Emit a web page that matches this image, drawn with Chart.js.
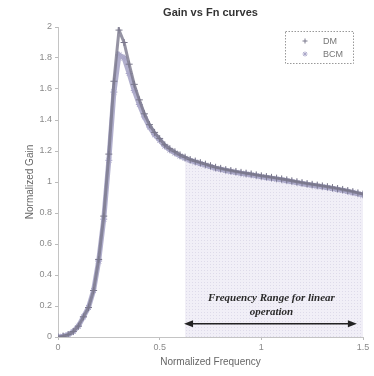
<!DOCTYPE html>
<html><head><meta charset="utf-8">
<script src="https://cdn.jsdelivr.net/npm/chart.js@4/dist/chart.umd.min.js"></script>
<style>html,body{margin:0;padding:0;background:#fff}#wrap{width:374px;height:376px}</style>
</head><body><div id="wrap"><canvas id="c"></canvas></div>
<script>
// Normalized frequency (x) samples
const freq = [0,0.025,0.05,0.075,0.1,0.125,0.15,0.175,0.2,0.225,0.25,0.275,0.3,0.325,0.35,0.375,0.4,0.425,0.45,0.475,0.5,0.525,0.55,0.575,0.6,0.625,0.65,0.675,0.7,0.725,0.75,0.775,0.8,0.825,0.85,0.875,0.9,0.925,0.95,0.975,1.0,1.025,1.05,1.075,1.1,1.125,1.15,1.175,1.2,1.225,1.25,1.275,1.3,1.325,1.35,1.375,1.4,1.425,1.45,1.475,1.5];
// DM normalized gain
const gainDM = [0,0.005,0.015,0.035,0.07,0.13,0.19,0.3,0.5,0.78,1.18,1.65,1.98,1.9,1.76,1.63,1.53,1.44,1.37,1.32,1.28,1.24,1.215,1.195,1.175,1.16,1.145,1.135,1.125,1.115,1.105,1.095,1.088,1.08,1.074,1.068,1.062,1.057,1.052,1.046,1.04,1.035,1.03,1.025,1.02,1.014,1.008,1.002,0.996,0.99,0.985,0.98,0.975,0.97,0.964,0.958,0.952,0.945,0.938,0.93,0.922];
// BCM normalized gain
const gainBCM = [0,0.005,0.015,0.035,0.07,0.13,0.19,0.3,0.49,0.76,1.14,1.58,1.82,1.8,1.7,1.59,1.5,1.42,1.355,1.305,1.27,1.232,1.207,1.187,1.168,1.153,1.139,1.129,1.119,1.109,1.099,1.089,1.082,1.074,1.068,1.062,1.056,1.051,1.046,1.04,1.034,1.029,1.024,1.019,1.014,1.008,1.002,0.996,0.99,0.984,0.979,0.974,0.969,0.964,0.958,0.952,0.946,0.939,0.932,0.924,0.916];
const xTicks = [0, 0.5, 1, 1.5];
const yTicks = [0,0.2,0.4,0.6,0.8,1,1.2,1.4,1.6,1.8,2];
const seriesNames = ['DM', 'BCM'];
const chartTitle = 'Gain vs Fn curves';
const shadeStart = 0.625;   // start of linear operation range
const arrowRange = [0.62, 1.47];
const arrowLevel = 0.085;
const rangeLabel = ['Frequency Range for linear', 'operation'];

const toXY = (ys) => freq.map((x, i) => ({x, y: ys[i]}));
const shadeData = freq.map((x, i) => ({x, y: gainDM[i]})).filter(p => p.x >= shadeStart);

// dotted texture for the shaded region
const pc = document.createElement('canvas'); pc.width = 3; pc.height = 3;
const pcx = pc.getContext('2d');
pcx.fillStyle = '#f1eff7'; pcx.fillRect(0,0,3,3);
pcx.fillStyle = '#dedbea'; pcx.fillRect(0,0,1,1);
const shadePattern = document.createElement('canvas').getContext('2d').createPattern(pc, 'repeat');

const colDM = '#7a788c', colBCM = '#a9a6c8';
const sans = '"Liberation Sans", Arial, sans-serif';

const overlay = {
  id: 'overlay',
  afterDatasetsDraw(chart) {
    const {ctx, chartArea, scales: {x, y}} = chart;
    ctx.save();
    // title
    ctx.font = 'bold 11px ' + sans; ctx.fillStyle = '#333'; ctx.textAlign = 'center'; ctx.textBaseline = 'middle';
    ctx.fillText(chartTitle, (chartArea.left + chartArea.right) / 2, 13);
    // arrow
    const x1 = x.getPixelForValue(arrowRange[0]), x2 = x.getPixelForValue(arrowRange[1]);
    const ya = y.getPixelForValue(arrowLevel);
    ctx.strokeStyle = '#222'; ctx.fillStyle = '#222'; ctx.lineWidth = 1.5;
    ctx.beginPath(); ctx.moveTo(x1 + 4, ya); ctx.lineTo(x2 - 4, ya); ctx.stroke();
    ctx.beginPath(); ctx.moveTo(x1, ya); ctx.lineTo(x1 + 9, ya - 3.5); ctx.lineTo(x1 + 9, ya + 3.5); ctx.closePath(); ctx.fill();
    ctx.beginPath(); ctx.moveTo(x2, ya); ctx.lineTo(x2 - 9, ya - 3.5); ctx.lineTo(x2 - 9, ya + 3.5); ctx.closePath(); ctx.fill();
    // label
    const cx = (x1 + x2) / 2 + 1;
    ctx.font = 'italic bold 11px "Liberation Serif", serif';
    ctx.fillStyle = '#2a2a2a';
    ctx.fillText(rangeLabel[0], cx, ya - 26);
    ctx.fillText(rangeLabel[1], cx, ya - 12);
    // legend box
    const lx = 285, ly = 31, lw = 68, lh = 32;
    ctx.setLineDash([1.5, 1.5]); ctx.strokeStyle = '#999'; ctx.lineWidth = 1;
    ctx.strokeRect(lx + 0.5, ly + 0.5, lw, lh);
    ctx.setLineDash([]);
    ctx.font = '9px ' + sans; ctx.textAlign = 'left';
    const rows = [{name: seriesNames[0], col: colDM, style: 'cross'}, {name: seriesNames[1], col: colBCM, style: 'star'}];
    rows.forEach((r, i) => {
      const ry = ly + 10 + i * 13;
      ctx.strokeStyle = r.col; ctx.lineWidth = 1;
      ctx.beginPath();
      ctx.moveTo(305, ry - 2.5); ctx.lineTo(305, ry + 2.5); ctx.moveTo(302.5, ry); ctx.lineTo(307.5, ry);
      if (r.style === 'star') { ctx.moveTo(303.2, ry - 1.8); ctx.lineTo(306.8, ry + 1.8); ctx.moveTo(306.8, ry - 1.8); ctx.lineTo(303.2, ry + 1.8); }
      ctx.stroke();
      ctx.fillStyle = '#777';
      ctx.fillText(r.name, 323, ry + 0.5);
    });
    ctx.restore();
  }
};

new Chart(document.getElementById('c'), {
  type: 'scatter',
  data: {
    datasets: [
      {label: 'range', data: shadeData, showLine: true, fill: 'origin', backgroundColor: shadePattern,
       borderWidth: 0, pointRadius: 0, order: 3},
      {label: seriesNames[1], data: toXY(gainBCM), showLine: true, borderColor: 'rgba(169,166,200,0.9)', borderWidth: 5,
       pointStyle: 'star', pointRadius: 3.5, pointBorderColor: colBCM, pointBorderWidth: 1, pointBackgroundColor: colBCM, order: 2},
      {label: seriesNames[0], data: toXY(gainDM), showLine: true, borderColor: 'rgba(122,120,140,0.8)', borderWidth: 3,
       pointStyle: 'cross', pointRadius: 3.5, pointBorderColor: colDM, pointBorderWidth: 1, order: 1}
    ]
  },
  options: {
    responsive: true, maintainAspectRatio: false, animation: false,
    layout: {padding: {left: 0, right: 11, top: 27, bottom: 0}},
    plugins: {legend: {display: false}, tooltip: {enabled: false}, title: {display: false}},
    scales: {
      x: {
        type: 'linear', min: 0, max: 1.5,
        afterBuildTicks: (s) => { s.ticks = xTicks.map(v => ({value: v})); },
        afterFit: (s) => { s.height = 39; },
        ticks: {color: '#8a8a8a', font: {family: sans, size: 9}, padding: 2, callback: (v) => String(v)},
        grid: {drawOnChartArea: false, tickLength: 3, color: '#bbb'},
        border: {color: '#c4c4c4', dash: [2, 1]},
        title: {display: true, text: 'Normalized Frequency', color: '#666',
                font: {family: sans, size: 10}, padding: {bottom: 8, top: 0}}
      },
      y: {
        min: 0, max: 2,
        afterBuildTicks: (s) => { s.ticks = yTicks.map(v => ({value: v})); },
        afterFit: (s) => { s.width = 58; },
        ticks: {color: '#8a8a8a', font: {family: sans, size: 9}, padding: 3,
                callback: (v) => String(Number(v.toFixed(1)))},
        grid: {drawOnChartArea: false, tickLength: 3, color: '#bbb'},
        border: {color: '#c4c4c4', dash: [2, 1]},
        title: {display: true, text: 'Normalized Gain', color: '#666',
                font: {family: sans, size: 10}, padding: {top: 24, bottom: 0}}
      }
    }
  },
  plugins: [overlay]
});
</script></body></html>
